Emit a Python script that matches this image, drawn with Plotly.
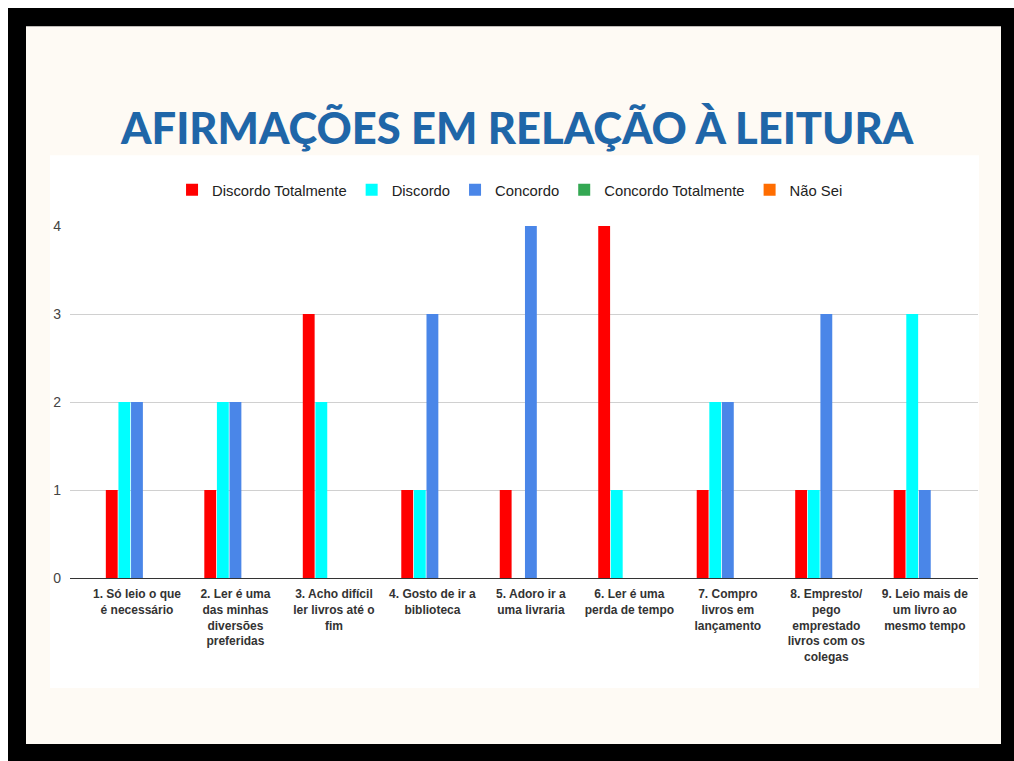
import plotly.graph_objects as go

# Data
categorias = [
    "1. Só leio o que<br>é necessário",
    "2. Ler é uma<br>das minhas<br>diversões<br>preferidas",
    "3. Acho difícil<br>ler livros até o<br>fim",
    "4. Gosto de ir a<br>biblioteca",
    "5. Adoro ir a<br>uma livraria",
    "6. Ler é uma<br>perda de tempo",
    "7. Compro<br>livros em<br>lançamento",
    "8. Empresto/<br>pego<br>emprestado<br>livros com os<br>colegas",
    "9. Leio mais de<br>um livro ao<br>mesmo tempo",
]
discordo_totalmente = [1, 1, 3, 1, 1, 4, 1, 1, 1]
discordo = [2, 2, 2, 1, 0, 1, 2, 1, 3]
concordo = [2, 2, 0, 3, 4, 0, 2, 3, 1]
concordo_totalmente = [0, 0, 0, 0, 0, 0, 0, 0, 0]
nao_sei = [0, 0, 0, 0, 0, 0, 0, 0, 0]

series = [
    ("Discordo Totalmente", discordo_totalmente, "#ff0000"),
    ("Discordo", discordo, "#00ffff"),
    ("Concordo", concordo, "#4a86e8"),
    ("Concordo Totalmente", concordo_totalmente, "#34a853"),
    ("Não Sei", nao_sei, "#ff6d01"),
]

W, H = 1014, 769
TOP = 8            # page offset above the figure
VS = 777 / 761     # page px per screenshot px (vertical)


def py(p):
    # screenshot pixel from top -> paper fraction
    return max(0, min(1, 1 - (p * VS - TOP) / H))


def px_(p):
    return p / W


fig = go.Figure()
for nome, vals, cor in series:
    fig.add_trace(go.Bar(x=categorias, y=vals, name=nome,
                         marker=dict(color=cor, line=dict(width=0))))

shapes = [
    # black frame
    dict(type="rect", xref="paper", yref="paper", x0=px_(8), x1=1, y0=0, y1=py(4),
         fillcolor="#000000", line=dict(width=0), layer="below"),
    # cream card
    dict(type="rect", xref="paper", yref="paper", x0=px_(26), x1=px_(1001), y0=py(744), y1=py(26),
         fillcolor="#fefaf4", line=dict(width=0), layer="below"),
    # white chart panel
    dict(type="rect", xref="paper", yref="paper", x0=px_(50), x1=px_(979), y0=py(688), y1=py(155),
         fillcolor="#ffffff", line=dict(width=0), layer="below"),
]

fig.update_layout(
    width=W, height=H,
    margin=dict(l=0, r=0, t=0, b=0),
    paper_bgcolor="#ffffff",
    plot_bgcolor="rgba(0,0,0,0)",
    shapes=shapes,
    barmode="group",
    bargap=0.36,
    bargroupgap=0.06,
    font=dict(family="Liberation Sans, Arial, sans-serif", color="#222222"),
    legend=dict(orientation="h", x=0.503, xanchor="center", y=py(190), yanchor="middle",
                font=dict(size=14.8, color="#222222"), bgcolor="rgba(0,0,0,0)"),
    annotations=[dict(text="AFIRMAÇÕES EM RELAÇÃO À LEITURA", xref="paper", yref="paper",
                      x=px_(517), y=py(127), xanchor="center", yanchor="middle", showarrow=False,
                      font=dict(family="Lato", size=43.5, color="#1f66a8", weight=900))],
    xaxis=dict(domain=[px_(70), px_(978)], range=[-0.68, 8.54],
               showline=True, linecolor="#333333", linewidth=1, showgrid=False,
               ticks="", ticklabelstandoff=5,
               tickfont=dict(size=12, color="#333333", weight="bold")),
    yaxis=dict(domain=[py(578), py(226)], range=[0, 4.0], dtick=1,
               showgrid=True, gridcolor="#d0d0d0", gridwidth=1, zeroline=False,
               showline=False, ticks="", tickfont=dict(size=14, color="#444444"),
               ticklabelstandoff=8),
)

fig.write_html("out.html", config={"displayModeBar": False},
               post_script="document.body.style.margin='0';")
